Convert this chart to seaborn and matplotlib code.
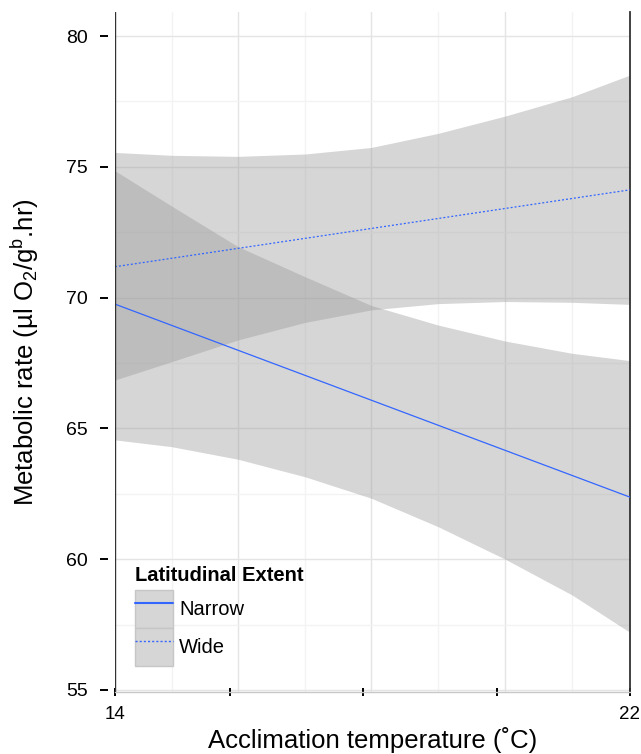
import matplotlib
matplotlib.use("Agg")
import matplotlib.pyplot as plt
import pandas as pd
import seaborn as sns
from matplotlib.legend_handler import HandlerTuple
from matplotlib.lines import Line2D
from matplotlib.patches import Patch

# values (band edges read at each grid line)
temp_grid = [14.0, 14.88, 15.91, 16.95, 17.98, 19.02, 20.06, 21.10, 22.0]
narrow_lower = [64.56, 64.30, 63.82, 63.15, 62.33, 61.24, 60.00, 58.63, 57.20]
narrow_upper = [74.85, 73.50, 71.95, 70.80, 69.70, 68.95, 68.34, 67.87, 67.59]
wide_lower = [66.85, 67.55, 68.38, 69.05, 69.53, 69.77, 69.85, 69.82, 69.74]
wide_upper = [75.55, 75.44, 75.40, 75.49, 75.74, 76.28, 76.94, 77.68, 78.51]

fit_temp = [14, 22]
narrow_fit = [69.75, 62.37]
wide_fit = [71.18, 74.12]
extent_labels = ["Narrow", "Wide"]

y_ticks = [55, 60, 65, 70, 75, 80]
y_minor = [57.5, 62.5, 67.5, 72.5, 77.5]
x_tick_pos = [14, 15.78, 17.85, 19.93, 22]
x_tick_labels = ["14", "", "", "", "22"]
x_grid_major = [15.91, 17.98, 20.06]
x_grid_minor = [14.88, 16.95, 19.02, 21.10]

BLUE = "#3366FF"
INK = "black"

sns.set_theme(style="white")
plt.rcParams["font.family"] = ["Liberation Sans", "DejaVu Sans"]
plt.rcParams["mathtext.fontset"] = "custom"
plt.rcParams["mathtext.rm"] = "Liberation Sans"
plt.rcParams["mathtext.it"] = "Liberation Sans:italic"
plt.rcParams["text.color"] = INK

fig = plt.figure(figsize=(6.41, 7.54), dpi=100)
ax = fig.add_axes([115 / 641, 62 / 754, 515 / 641, 680 / 754])

# background grid
for gx in x_grid_major:
    ax.axvline(gx, color="#e4e4e4", lw=1.0, zorder=0.5)
for gx in x_grid_minor:
    ax.axvline(gx, color="#f3f3f3", lw=1.0, zorder=0.5)
for gy in y_ticks:
    ax.axhline(gy, color="#e4e4e4", lw=1.0, zorder=0.5)
for gy in y_minor:
    ax.axhline(gy, color="#f3f3f3", lw=1.0, zorder=0.5)

# confidence bands
ax.fill_between(temp_grid, narrow_lower, narrow_upper, color="#999999",
                alpha=0.4, linewidth=0, zorder=2)
ax.fill_between(temp_grid, wide_lower, wide_upper, color="#999999",
                alpha=0.4, linewidth=0, zorder=2)

fits = pd.DataFrame({
    "temp": fit_temp * 2,
    "rate": narrow_fit + wide_fit,
    "extent": ["Narrow"] * 2 + ["Wide"] * 2,
})
sns.lineplot(data=fits, x="temp", y="rate", hue="extent", style="extent",
             palette={"Narrow": BLUE, "Wide": BLUE},
             dashes={"Narrow": "", "Wide": (1.6, 1.6)},
             linewidth=0.9, legend=False, ax=ax, zorder=3)

ax.set_xlim(14, 22)
ax.set_ylim(54.92, 80.92)

ax.set_yticks(y_ticks)
ax.set_yticklabels([str(v) for v in y_ticks])
ax.set_xticks(x_tick_pos)
ax.set_xticklabels(x_tick_labels)
ax.tick_params(axis="y", direction="out", length=5.8, width=1.4, color=INK,
               pad=8.6, labelsize=14, labelcolor=INK, left=True)
ax.tick_params(axis="x", direction="inout", length=5.5, width=1.4, color=INK,
               pad=7, labelsize=13.5, labelcolor=INK, bottom=True)

# axis lines
ax.spines["top"].set_visible(False)
ax.spines["left"].set_position(("outward", 5))
ax.spines["left"].set_color("none")
ax.spines["bottom"].set_color("#c8c8c8")
ax.spines["bottom"].set_linewidth(1.0)
ax.spines["right"].set_color("#333333")
ax.spines["right"].set_linewidth(1.3)
ax.axvline(14, color="#333333", lw=1.0, zorder=5)

ax.set_xlabel("Acclimation temperature (˚C)", fontsize=18.5, color=INK, labelpad=3)
ax.set_ylabel("Metabolic rate (µl O$_2$/g$^{\\mathrm{b}}$.hr)", fontsize=18.5,
              color=INK, labelpad=18)

handles = []
for lab, ls in zip(extent_labels, ["-", (0, (1.5, 1.5))]):
    key = Patch(facecolor="#d6d6d6", edgecolor="#c6c6c6", linewidth=1.0)
    line = Line2D([], [], color=BLUE, linewidth=1.5 if lab == "Narrow" else 1.0,
                  linestyle=ls)
    handles.append((key, line))
leg = ax.legend(handles, extent_labels,
                handler_map={tuple: HandlerTuple(ndivide=1, pad=0)},
                title="Latitudinal Extent", loc="upper left",
                bbox_to_anchor=(0.039, 0.185), frameon=False, fontsize=14.5,
                title_fontproperties={"weight": "bold", "size": 14.5},
                handlelength=1.89, handleheight=2.53, labelspacing=0,
                handletextpad=0.3, borderpad=0, borderaxespad=0,
                labelcolor=INK)
leg.get_title().set_color(INK)
leg._legend_box.align = "left"
leg._legend_box.sep = 3.6
leg.set_zorder(6)

fig.savefig("out.png", dpi=100)
